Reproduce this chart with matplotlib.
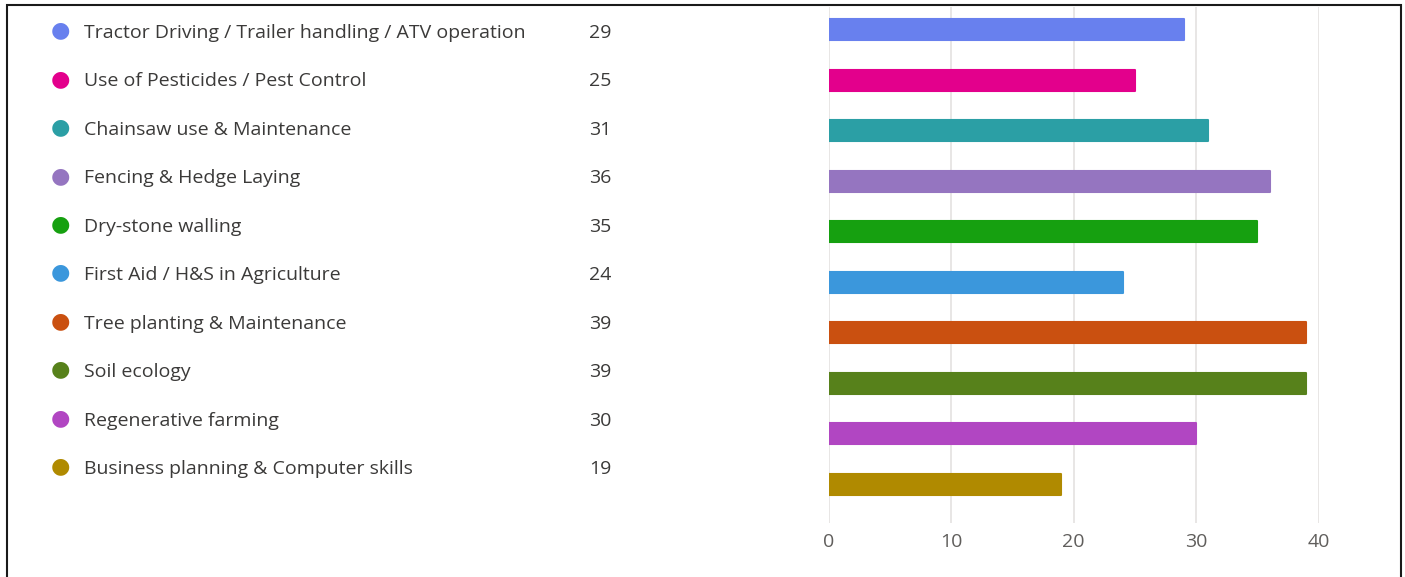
import matplotlib.pyplot as plt
from matplotlib.patches import Rectangle

# Dati
labels = ['Tractor Driving / Trailer handling / ATV operation',
          'Use of Pesticides / Pest Control',
          'Chainsaw use & Maintenance',
          'Fencing & Hedge Laying',
          'Dry-stone walling',
          'First Aid / H&S in Agriculture',
          'Tree planting & Maintenance',
          'Soil ecology',
          'Regenerative farming',
          'Business planning & Computer skills']
counts = [29, 25, 31, 36, 35, 24, 39, 39, 30, 19]
colors = ['#6880ee', '#e3008c', '#2b9fa5', '#9575c0', '#16a010',
          '#3b97dc', '#ca5010', '#57811b', '#b146c2', '#b08a00']
x_ticks = [0, 10, 20, 30, 40]

W, H = 1405, 577
fig = plt.figure(figsize=(W / 100, H / 100), dpi=100)
plt.rcParams['font.family'] = ['Open Sans', 'DejaVu Sans']

text_col = '#3b3a39'
tick_col = '#605e5c'

# Legenda a sinistra (pixel -> coordinate figura)
row_y0, row_dy = 31, 48.44
for i, (lab, n, c) in enumerate(zip(labels, counts, colors)):
    yp = 1 - (row_y0 + i * row_dy) / H
    fig.text(60 / W, yp, '\u25cf', color=c, fontsize=16, ha='center', va='center')
    fig.text(84 / W, yp - 2 / H, lab, color=text_col, fontsize=14, ha='left', va='center')
    fig.text(589 / W, yp - 2 / H, str(n), color=text_col, fontsize=14, ha='left', va='center')

# Grafico a barre
ax = fig.add_axes([828.5 / W, (H - 523) / H, 490 / W, 516 / H])
ypos = list(range(len(counts)))
ax.barh(ypos, counts, height=0.415, color=colors, edgecolor=colors,
        linewidth=1.5, joinstyle='round', zorder=3)
ax.set_xlim(0, 40)
ax.set_ylim(9.761, -0.445)
ax.set_xticks(x_ticks)
ax.set_yticks([])
ax.grid(axis='x', color='#e4e2e0', linewidth=1.2, zorder=0)
ax.tick_params(axis='x', length=0, pad=7, labelsize=14, labelcolor=tick_col)
for s in ax.spines.values():
    s.set_visible(False)

# Cornice esterna
fig.patches.append(Rectangle((7 / W, -0.05), (1401 - 7) / W, 1.05 - 5 / H,
                             transform=fig.transFigure, fill=False,
                             edgecolor='#1a1a1a', linewidth=1.5))

fig.savefig('out.png', dpi=100)
